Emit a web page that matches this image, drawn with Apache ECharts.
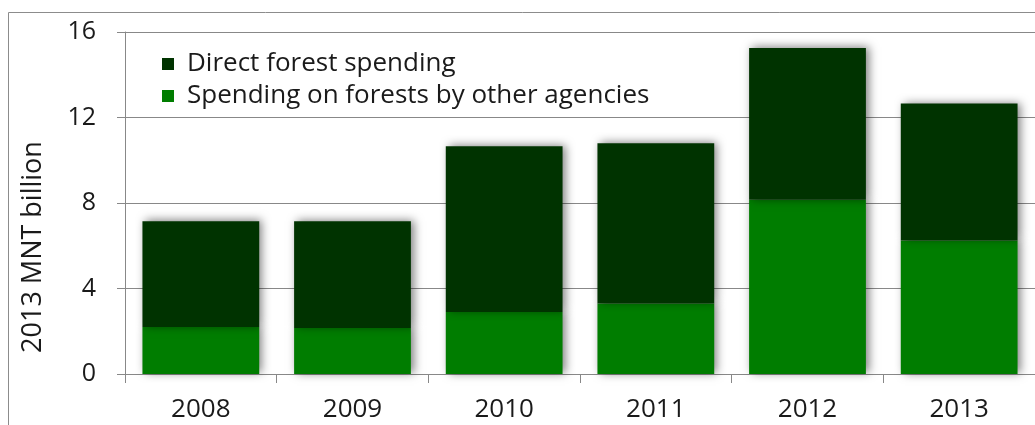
<!DOCTYPE html>
<html>
<head>
<meta charset="utf-8">
<script src="https://cdn.jsdelivr.net/npm/echarts@6/dist/echarts.min.js"></script>
<style>
	html, body { margin: 0; padding: 0; background: #fff; }
	#chart { width: 1035px; height: 425px; }
</style>
</head>
<body>
<div id="chart"></div>
<script>
let years = ['2008', '2009', '2010', '2011', '2012', '2013'];
let other_agencies = [2.2, 2.15, 2.9, 3.3, 8.15, 6.25]; // 其他机构
let direct = [4.95, 5.0, 7.75, 7.5, 7.1, 6.4]; // 直接支出
let y_ticks = [0, 4, 8, 12, 16];
let y_name = '2013 MNT billion';

let font = '"Open Sans", Lato, sans-serif';
let chart = echarts.init(document.getElementById('chart'));

let bar_shadow = {
	shadowBlur: 9,
	shadowColor: 'rgba(0,0,0,0.5)',
	shadowOffsetX: 3,
	shadowOffsetY: -1,
};

let option = {
	animation: false,
	graphic: [
		{
			type: 'rect',
			shape: { x: 8.5, y: 12.5, width: 1040, height: 430 },
			style: { fill: 'none', stroke: '#8c8c8c', lineWidth: 1 },
			silent: true,
		},
		// 纵轴标题（偏下，单独画）
		{
			type: 'text',
			x: 33,
			y: 247,
			rotation: Math.PI / 2,
			style: {
				text: y_name,
				font: `27px ${font}`,
				fill: '#1a1a1a',
				align: 'center',
				verticalAlign: 'middle',
			},
			silent: true,
		},
	],
	legend: {
		left: 157,
		top: 46,
		orient: 'vertical',
		itemWidth: 12,
		itemHeight: 12,
		itemGap: 6,
		icon: 'rect',
		data: ['Direct forest spending', 'Spending on forests by other agencies'],
		textStyle: { fontFamily: font, fontSize: 26, lineHeight: 26, color: '#1a1a1a', padding: [0, 0, 0, 8] },
	},
	grid: { left: 125, top: 32, right: -3, bottom: 51 },
	xAxis: {
		type: 'category',
		data: years,
		axisLine: { lineStyle: { color: '#888', width: 1 } },
		axisTick: { show: true, length: 9, lineStyle: { color: '#888' } },
		axisLabel: { fontFamily: font, fontSize: 26, color: '#1a1a1a', margin: 23 },
	},
	yAxis: {
		type: 'value',
		min: y_ticks[0],
		max: y_ticks[y_ticks.length - 1],
		interval: 4,
		axisLine: { show: true, lineStyle: { color: '#888', width: 1 } },
		axisTick: { show: true, length: 8, lineStyle: { color: '#888' } },
		axisLabel: { fontFamily: font, fontSize: 25, color: '#1a1a1a', margin: 29 },
		splitLine: { lineStyle: { color: '#888', width: 1 } },
	},
	series: [
		{
			name: 'Spending on forests by other agencies',
			type: 'bar',
			stack: 'total',
			barWidth: '77%',
			data: other_agencies,
			itemStyle: Object.assign({ color: '#007d00' }, bar_shadow),
		},
		{
			name: 'Direct forest spending',
			type: 'bar',
			stack: 'total',
			barWidth: '77%',
			data: direct,
			itemStyle: Object.assign({ color: '#003300' }, bar_shadow),
		},
	],
};
chart.setOption(option);
</script>
</body>
</html>
